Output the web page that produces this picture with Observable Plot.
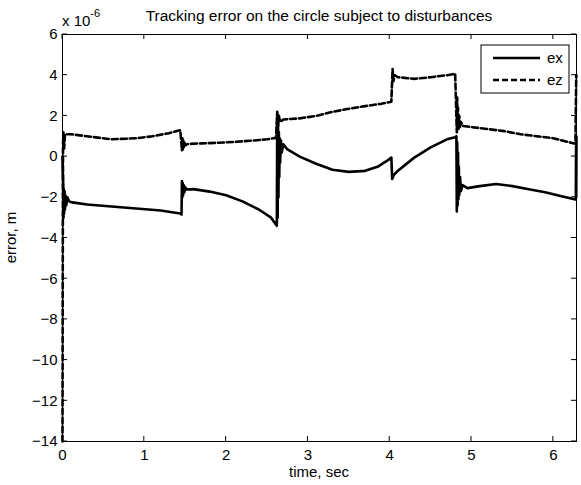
<!DOCTYPE html>
<html><head><meta charset="utf-8">
<script src="https://cdn.jsdelivr.net/npm/d3@7"></script>
<script src="https://cdn.jsdelivr.net/npm/@observablehq/plot@0.6"></script>
<style>body{margin:0;background:#fff} svg{display:block}</style>
</head><body><div id="chart"></div>
<script>
// ---- data (error values in units of 1e-6 m) ----
const exT = [0, 0.004, 0.008, 0.012, 0.016, 0.02, 0.025, 0.03, 0.035, 0.045, 0.06, 0.08, 0.12, 0.3, 0.6, 0.9, 1.2, 1.44, 1.455,
  1.46, 1.465, 1.47, 1.475, 1.48, 1.49, 1.5, 1.52, 1.6, 1.8, 2.0, 2.2, 2.4, 2.55, 2.62,
  2.625, 2.63, 2.635, 2.64, 2.645, 2.65, 2.655, 2.66, 2.67, 2.68, 2.7, 2.75, 2.9, 3.1, 3.3, 3.5, 3.7, 3.85, 3.95, 4.02,
  4.03, 4.05, 4.1, 4.3, 4.5, 4.7, 4.8,
  4.815, 4.82, 4.825, 4.83, 4.835, 4.84, 4.845, 4.85, 4.86, 4.87, 4.89, 4.95, 5.1, 5.3, 5.5, 5.7, 5.9, 6.1, 6.26, 6.275, 6.278, 6.28, 6.283];
const exV = [0, -0.8, -1.3, -3.0, -1.6, -2.8, -1.7, -2.6, -1.9, -2.4, -2.0, -2.2, -2.25, -2.35, -2.45, -2.55, -2.65, -2.8, -2.85,
  -1.2, -2.0, -1.3, -1.9, -1.4, -1.75, -1.5, -1.62, -1.6, -1.72, -1.9, -2.2, -2.6, -3.0, -3.4,
  2.1, -3.0, 1.6, -2.0, 1.2, -1.0, 0.9, -0.3, 0.8, 0.2, 0.6, 0.35, 0.0, -0.35, -0.65, -0.75, -0.7, -0.5, -0.25, -0.05,
  -1.1, -0.9, -0.7, -0.05, 0.45, 0.85, 0.95,
  1.0, -2.7, 0.7, -2.4, 0.2, -2.1, -0.5, -1.9, -1.0, -1.7, -1.4, -1.55, -1.45, -1.35, -1.45, -1.6, -1.75, -1.95, -2.1, -2.1, 0.5, -2.0, 1.0];

const ezT = [0, 0.003, 0.006, 0.01, 0.02, 0.03, 0.05, 0.1, 0.3, 0.6, 0.9, 1.1, 1.3, 1.44,
  1.46, 1.465, 1.47, 1.475, 1.48, 1.49, 1.5, 1.53, 1.7, 1.9, 2.1, 2.3, 2.5, 2.61,
  2.625, 2.635, 2.645, 2.66, 2.7, 2.9, 3.1, 3.3, 3.5, 3.7, 3.9, 4.02,
  4.035, 4.045, 4.06, 4.1, 4.3, 4.5, 4.7, 4.8,
  4.82, 4.825, 4.83, 4.835, 4.84, 4.85, 4.86, 4.87, 4.9, 5.0, 5.2, 5.4, 5.6, 5.8, 6.0, 6.2, 6.27, 6.28, 6.283];
const ezV = [-14, -6, 0.5, 1.2, 0.4, 1.1, 1.1, 1.1, 1.0, 0.85, 0.9, 1.0, 1.15, 1.3,
  0.3, 0.9, 0.35, 0.8, 0.45, 0.7, 0.55, 0.62, 0.65, 0.68, 0.72, 0.78, 0.85, 0.92,
  2.2, 1.5, 2.0, 1.7, 1.82, 1.88, 2.0, 2.2, 2.35, 2.48, 2.6, 2.7,
  4.3, 3.7, 4.0, 3.9, 3.82, 3.9, 4.0, 4.07,
  1.2, 2.9, 1.3, 2.4, 1.3, 2.0, 1.4, 1.7, 1.5, 1.45, 1.35, 1.25, 1.1, 1.0, 0.9, 0.7, 0.63, 4.0, 3.9];

const seriesNames = ["ex", "ez"];
const xTicks = [0, 1, 2, 3, 4, 5, 6];
const yTicks = [-14, -12, -10, -8, -6, -4, -2, 0, 2, 4, 6];
const titleText = "Tracking error on the circle subject to disturbances";
const xLabel = "time, sec";
const yLabel = "error, m";
const exponentBase = "x 10";
const exponentPow = "-6";

const exData = exT.map((t, i) => ({t, v: exV[i]}));
const ezData = ezT.map((t, i) => ({t, v: ezV[i]}));

const font = "'Liberation Sans', Arial, Helvetica, sans-serif";
const chart = Plot.plot({
  width: 581, height: 485,
  marginLeft: 62, marginRight: 5, marginTop: 34, marginBottom: 44,
  style: {fontFamily: font, fontSize: "15px", background: "white", color: "black"},
  x: {domain: [0, 2 * Math.PI]},
  y: {domain: [-14, 6]},
  marks: [
    Plot.line(exData, {x: "t", y: "v", stroke: "black", strokeWidth: 2.6}),
    Plot.line(ezData, {x: "t", y: "v", stroke: "black", strokeWidth: 2.6, strokeDasharray: "6,3"}),
    Plot.frame({stroke: "black", strokeWidth: 1}),
    Plot.axisX(xTicks, {tickSize: 0, tickPadding: 8, fontSize: 15, label: null}),
    Plot.axisY(yTicks, {tickSize: 0, tickPadding: 5, fontSize: 15, label: null})
  ]
});
document.getElementById("chart").appendChild(chart);

const svg = d3.select(chart);
const sx = chart.scale("x"), sy = chart.scale("y");
const [xl, xr] = sx.range;
const [yb, yt] = sy.range;
const tl = 5;
const g = svg.append("g").attr("stroke", "black").attr("stroke-width", 1);
xTicks.forEach(t => {
  const x = sx.apply(t);
  g.append("line").attr("x1", x).attr("x2", x).attr("y1", yb).attr("y2", yb - tl);
  g.append("line").attr("x1", x).attr("x2", x).attr("y1", yt).attr("y2", yt + tl);
});
yTicks.forEach(v => {
  const y = sy.apply(v);
  g.append("line").attr("x1", xl).attr("x2", xl + tl).attr("y1", y).attr("y2", y);
  g.append("line").attr("x1", xr).attr("x2", xr - tl).attr("y1", y).attr("y2", y);
});

const txt = svg.append("g").attr("font-family", font).attr("font-size", 15).attr("fill", "black");
txt.append("text").attr("x", (xl + xr) / 2).attr("y", 21).attr("text-anchor", "middle")
  .attr("font-size", 15.5).text(titleText);
const ex = txt.append("text").attr("x", xl).attr("y", 26).attr("text-anchor", "start");
ex.append("tspan").text(exponentBase);
ex.append("tspan").attr("font-size", 11).attr("dy", -9).text(exponentPow);
txt.append("text").attr("x", (xl + xr) / 2).attr("y", 477).attr("text-anchor", "middle").text(xLabel);
txt.append("text").attr("transform", `translate(16,${(yb + yt) / 2}) rotate(-90)`).attr("text-anchor", "middle").text(yLabel);

// legend
const lg = svg.append("g");
lg.append("rect").attr("x", 481).attr("y", 45).attr("width", 88).attr("height", 48)
  .attr("fill", "white").attr("stroke", "black").attr("stroke-width", 1);
seriesNames.forEach((name, i) => {
  const y = 58 + i * 22;
  lg.append("line").attr("x1", 493).attr("x2", 540).attr("y1", y).attr("y2", y)
    .attr("stroke", "black").attr("stroke-width", 2.5)
    .attr("stroke-dasharray", i === 1 ? "6,3" : null);
  lg.append("text").attr("x", 547).attr("y", y + 5).attr("font-family", font)
    .attr("text-anchor", "start").attr("font-size", 15).text(name);
});
</script>
</body></html>
